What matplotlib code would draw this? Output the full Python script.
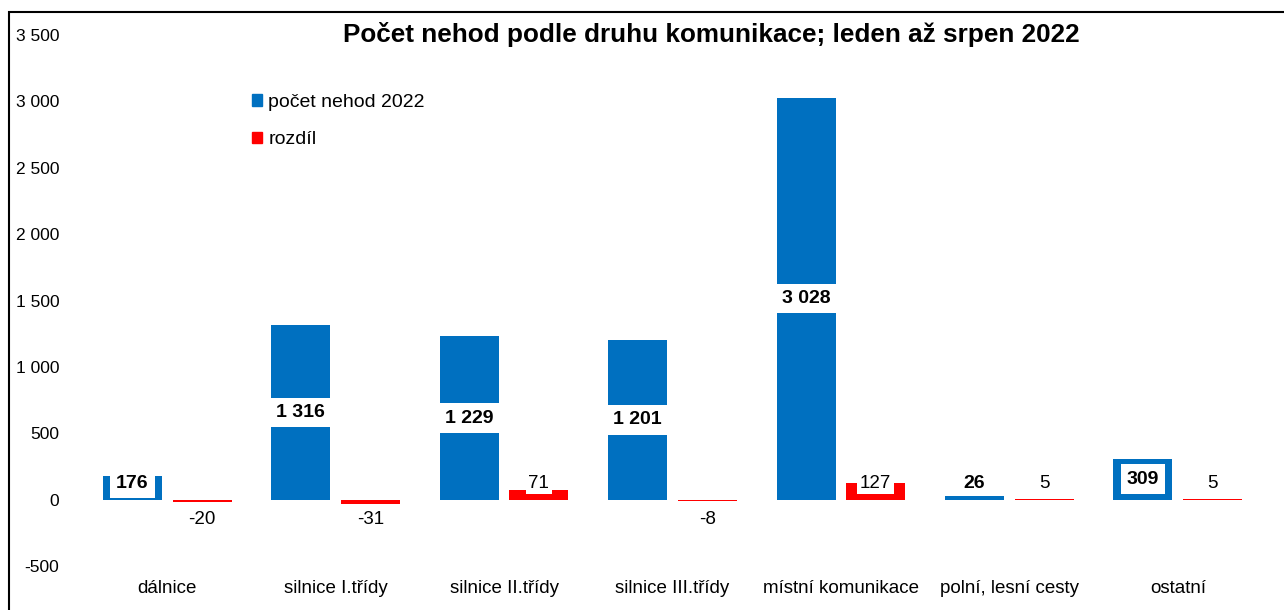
import numpy as np
import matplotlib.pyplot as plt
from matplotlib.patches import Patch, Rectangle

plt.rcParams['font.family'] = ['Liberation Sans', 'DejaVu Sans']

# data
categories = ['dálnice', 'silnice I.třídy', 'silnice II.třídy', 'silnice III.třídy',
              'místní komunikace', 'polní, lesní cesty', 'ostatní']
pocet_2022 = [176, 1316, 1229, 1201, 3028, 26, 309]
rozdil = [-20, -31, 71, -8, 127, 5, 5]
y_ticks = [-500, 0, 500, 1000, 1500, 2000, 2500, 3000, 3500]

blue = '#0070C0'
red = '#FF0000'

def fmt(v):
    return f'{v:,}'.replace(',', ' ')

fig = plt.figure(figsize=(12.84, 6.10), dpi=100)
ax = fig.add_axes([0.0646, 0.0721, 0.9183, 0.8705])

x = np.arange(len(categories))
w = 0.35
off = 0.207
ax.bar(x - off, pocet_2022, w, color=blue, label='počet nehod 2022')
ax.bar(x + off, rozdil, w, color=red, label='rozdíl')

# data labels
for xi, v in zip(x, pocet_2022):
    y = max(v / 2, 120)
    box = dict(facecolor='white', edgecolor='none', pad=4.5) if v > 100 else None
    ax.text(xi - off, y, fmt(v), ha='center', va='center', fontsize=14,
            fontweight='bold', bbox=box)
for xi, v in zip(x, rozdil):
    y = 125 if v > 0 else -150
    box = dict(facecolor='white', edgecolor='none', pad=2) if v > 50 else None
    ax.text(xi + off, y, fmt(v), ha='center', va='center', fontsize=13.5, bbox=box)

ax.set_xlim(-0.5, len(categories) - 0.5)
ax.set_ylim(-500, 3500)
ax.set_yticks(y_ticks)
ax.set_yticklabels([fmt(t) for t in y_ticks], fontsize=12.5)
ax.set_xticks(x)
ax.set_xticklabels(categories, fontsize=13.5)
ax.tick_params(axis='y', length=0, pad=17)
ax.tick_params(axis='x', length=0, pad=10)
for s in ax.spines.values():
    s.set_visible(False)

fig.text(0.554, 0.943, 'Počet nehod podle druhu komunikace; leden až srpen 2022',
         ha='center', va='center', fontsize=18.8, fontweight='bold')

handles = [Patch(color=blue, label='počet nehod 2022'), Patch(color=red, label='rozdíl')]
fig.legend(handles=handles, loc='upper left', bbox_to_anchor=(0.196, 0.846),
           frameon=False, borderpad=0, borderaxespad=0, fontsize=14,
           handlelength=0.55, handleheight=0.55, handletextpad=0.3, labelspacing=1.05)

# chart border (cut off at right and bottom as in the source)
fig.patches.append(Rectangle((9 / 1284, -0.1), 1.2, 1.1 - 12 / 610,
                             transform=fig.transFigure, fill=False,
                             edgecolor='black', linewidth=1.5))

fig.savefig('out.png', dpi=100)
